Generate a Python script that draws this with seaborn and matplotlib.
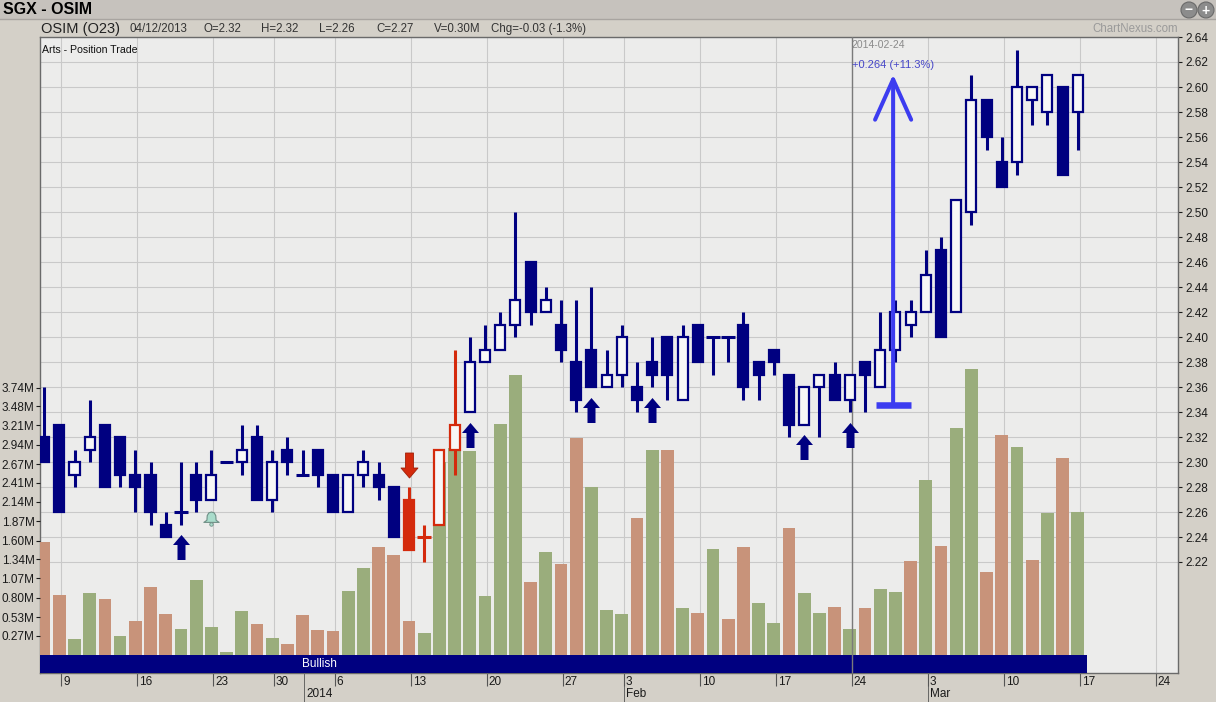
import numpy as np
import pandas as pd
import matplotlib
matplotlib.use('Agg')
import matplotlib.pyplot as plt
import matplotlib.transforms as mtrans
from matplotlib.path import Path
from matplotlib.patches import Ellipse, Rectangle
import seaborn as sns

plt.rcParams['font.family'] = ['Liberation Sans', 'DejaVu Sans']

W, H = 1216, 702

# ---- data -----------------------------------------------------------------
holidays = ['2013-12-25', '2014-01-01', '2014-01-31']
first_day, axis_end = '2013-12-06', '2014-03-24'

opens = [2.32, 2.33, 2.29, 2.31, 2.33, 2.32, 2.29, 2.29, 2.25, 2.26,
         2.29, 2.27, 2.30, 2.30, 2.32, 2.27, 2.31, 2.29, 2.31, 2.29,
         2.26, 2.29, 2.29, 2.28, 2.27, 2.24, 2.25, 2.31, 2.34, 2.38,
         2.39, 2.41, 2.46, 2.42, 2.41, 2.38, 2.39, 2.36, 2.37, 2.36,
         2.38, 2.40, 2.35, 2.41, 2.40, 2.40, 2.41, 2.38, 2.39, 2.37,
         2.33, 2.36, 2.37, 2.35, 2.38, 2.36, 2.39, 2.41, 2.42, 2.47,
         2.42, 2.50, 2.59, 2.54, 2.54, 2.59, 2.58, 2.60, 2.58]
highs = [2.36, 2.33, 2.31, 2.35, 2.33, 2.32, 2.31, 2.30, 2.26, 2.30,
         2.30, 2.31, 2.30, 2.33, 2.33, 2.31, 2.32, 2.31, 2.31, 2.29,
         2.29, 2.31, 2.30, 2.28, 2.28, 2.25, 2.31, 2.39, 2.40, 2.41,
         2.42, 2.50, 2.46, 2.44, 2.43, 2.43, 2.44, 2.39, 2.41, 2.38,
         2.40, 2.40, 2.41, 2.41, 2.40, 2.40, 2.42, 2.38, 2.39, 2.37,
         2.36, 2.37, 2.38, 2.37, 2.38, 2.42, 2.43, 2.43, 2.47, 2.48,
         2.51, 2.61, 2.59, 2.56, 2.63, 2.60, 2.61, 2.60, 2.61]
lows = [2.30, 2.26, 2.28, 2.30, 2.28, 2.28, 2.26, 2.25, 2.24, 2.25,
        2.26, 2.27, 2.30, 2.29, 2.27, 2.26, 2.29, 2.29, 2.28, 2.26,
        2.26, 2.28, 2.27, 2.24, 2.23, 2.22, 2.25, 2.29, 2.34, 2.38,
        2.39, 2.40, 2.41, 2.42, 2.38, 2.34, 2.36, 2.36, 2.36, 2.34,
        2.36, 2.35, 2.35, 2.38, 2.37, 2.38, 2.35, 2.35, 2.37, 2.32,
        2.33, 2.32, 2.35, 2.34, 2.34, 2.36, 2.38, 2.40, 2.42, 2.40,
        2.42, 2.49, 2.55, 2.52, 2.53, 2.57, 2.57, 2.53, 2.55]
closes = [2.30, 2.26, 2.30, 2.32, 2.28, 2.29, 2.28, 2.26, 2.24, 2.26,
          2.27, 2.29, 2.30, 2.31, 2.27, 2.30, 2.30, 2.29, 2.29, 2.26,
          2.29, 2.30, 2.28, 2.24, 2.23, 2.24, 2.31, 2.33, 2.38, 2.39,
          2.41, 2.43, 2.42, 2.43, 2.39, 2.35, 2.36, 2.37, 2.40, 2.35,
          2.37, 2.37, 2.40, 2.38, 2.40, 2.40, 2.36, 2.37, 2.38, 2.33,
          2.36, 2.37, 2.35, 2.37, 2.37, 2.39, 2.42, 2.42, 2.45, 2.40,
          2.51, 2.59, 2.56, 2.52, 2.60, 2.60, 2.61, 2.53, 2.61]
volumes = [1.585, 0.839, 0.228, 0.871, 0.788, 0.270, 0.480, 0.955, 0.578, 0.368,
           1.053, 0.396, 0.042, 0.620, 0.438, 0.242, 0.158, 0.564, 0.354, 0.336,
           0.900, 1.217, 1.510, 1.403, 0.480, 0.308, 2.700, 2.900, 2.853, 0.825,
           3.231, 3.916, 1.021, 1.441, 1.277, 3.035, 2.354, 0.629, 0.573, 1.921,
           2.867, 2.867, 0.657, 0.587, 1.483, 0.508, 1.510, 0.732, 0.452, 1.776,
           0.872, 0.587, 0.671, 0.364, 0.657, 0.923, 0.886, 1.315, 2.448, 1.524,
           3.175, 4.000, 1.161, 3.077, 2.909, 1.329, 1.986, 2.760, 2.000]

red_candles = [24, 25, 26, 27]
buy_arrows = [9, 28, 36, 40, 50, 53]
sell_arrows = [24]
alert_bells = [11]
signal_label = 'Bullish'
marker_date = '2014-02-24'
measure_start, measure_end = 2.346, 2.610
measure_day = 55.85

price_ticks = [2.22, 2.24, 2.26, 2.28, 2.30, 2.32, 2.34, 2.36, 2.38, 2.40, 2.42,
               2.44, 2.46, 2.48, 2.50, 2.52, 2.54, 2.56, 2.58, 2.60, 2.62, 2.64]
vol_ticks = [0.27, 0.53, 0.80, 1.07, 1.34, 1.60, 1.87, 2.14, 2.41, 2.67,
             2.94, 3.21, 3.48, 3.74]

header_fields = ['04/12/2013', 'O=2.32', 'H=2.32', 'L=2.26', 'C=2.27',
                 'V=0.30M', 'Chg=-0.03 (-1.3%)']
header_x = [129, 203, 261, 319, 376, 434, 491]

# ---- calendar -------------------------------------------------------------
days = pd.bdate_range(first_day, axis_end)
days = days[~days.isin(pd.to_datetime(holidays))]
n = len(closes)
weeks = days.isocalendar().week.values
week_pos = [i for i in range(1, len(days)) if weeks[i] != weeks[i - 1]]
month_pos = [i for i in range(1, len(days)) if days[i].month != days[i - 1].month]
month_lab = [str(days[i].year) if days[i].month == 1 else days[i].strftime('%b')
             for i in month_pos]
marker_idx = days.get_loc(pd.Timestamp(marker_date))

NAVY = '#000080'
RED = '#d42a0c'
GREEN = '#9aad7c'
BROWN = '#c8937a'
HOLLOW = '#f7f7f7'
BLUE = '#3c3cf0'

# ---- figure ---------------------------------------------------------------
fig = plt.figure(figsize=(W / 100, H / 100), dpi=100, facecolor='#d4d0c8')
fig.add_artist(Rectangle((0, 1 - 19 / H), 1, 19 / H, transform=fig.transFigure,
                         facecolor='#c6c2bd', edgecolor='none'))
fig.add_artist(plt.Line2D([0, 1], [1 - 19 / H] * 2, transform=fig.transFigure,
                          color='#a8a4a0', lw=1))

rect = [40 / W, (H - 673) / H, (1178 - 40) / W, (673 - 37) / H]
ax_bg = fig.add_axes(rect)
ax_v = fig.add_axes(rect)
ax = fig.add_axes(rect)

xlim = (-0.27, 74.59)
plim = (2.1312, 2.64)
vlim = (-0.252, 8.643)
shift = 0.12

# background axis: grid, ticks, price labels
ax_bg.set_facecolor('#ececeb')
ax_bg.set_xlim(xlim)
ax_bg.set_ylim(plim)
ax_bg.set_axisbelow(True)
ax_bg.yaxis.tick_right()
ax_bg.set_yticks(price_ticks, [f'{p:.2f}' for p in price_ticks])
ax_bg.tick_params(axis='y', length=3, pad=2, labelsize=8.5, colors='#1a1a1a')
ax_bg.xaxis.remove_overlapping_locs = False
ax_bg.set_xticks([p + shift for p in week_pos], [str(days[i].day) for i in week_pos])
ax_bg.set_xticks([p + shift for p in month_pos], month_lab, minor=True)
ax_bg.tick_params(axis='x', which='major', length=9, pad=-6.5, labelsize=8.5,
                  color='#555555', labelcolor='#1a1a1a')
ax_bg.tick_params(axis='x', which='minor', length=21, pad=-10, labelsize=8.5,
                  color='#555555', labelcolor='#1a1a1a')
nudge = mtrans.ScaledTranslation(2 / 100, 0, fig.dpi_scale_trans)
for lbl in ax_bg.get_xticklabels(which='both'):
    lbl.set_horizontalalignment('left')
    lbl.set_transform(lbl.get_transform() + nudge)
ax_bg.grid(True, which='major', color='#c9c9c9', lw=0.8)
for s in ax_bg.spines.values():
    s.set_color('#6a6a6a')
    s.set_linewidth(1)

# volume axis
moves = ['up' if i > 0 and closes[i] > closes[i - 1] else 'down' for i in range(n)]
vol_df = pd.DataFrame({'day': np.arange(n), 'volume': volumes, 'move': moves})
sns.barplot(data=vol_df, x='day', y='volume', hue='move',
            palette={'up': GREEN, 'down': BROWN}, native_scale=True,
            dodge=False, width=0.84, saturation=1, errorbar=None,
            legend=False, linewidth=0, ax=ax_v)
ax_v.set_xlim(xlim)
ax_v.set_ylim(vlim)
ax_v.set_xlabel('')
ax_v.set_ylabel('')
ax_v.patch.set_visible(False)
for s in ax_v.spines.values():
    s.set_visible(False)
ax_v.tick_params(axis='x', which='both', bottom=False, labelbottom=False)
ax_v.yaxis.tick_left()
ax_v.set_yticks(vol_ticks, [f'{v:.2f}M' for v in vol_ticks])
ax_v.tick_params(axis='y', length=3, pad=1, labelsize=8.5, colors='#1a1a1a')
ax_v.fill_between([-0.5, n - 0.4], vlim[0], 0, color=NAVY, lw=0, zorder=3)
ax_v.text(18.1, vlim[0] / 2, signal_label, color='white', fontsize=8.5,
          ha='center', va='center', zorder=4)

# candle axis
ax.set_xlim(xlim)
ax.set_ylim(plim)
ax.patch.set_visible(False)
for s in ax.spines.values():
    s.set_visible(False)
ax.tick_params(left=False, right=False, bottom=False, top=False,
               labelleft=False, labelbottom=False)
ax.axvline(marker_idx + shift, color='#7a7a7a', lw=1, zorder=1)

for i in range(n):
    o, h, l, c = opens[i], highs[i], lows[i], closes[i]
    col = RED if i in red_candles else NAVY
    ax.vlines(i, l, h, color=col, lw=2.2, zorder=2)
    if o == c:
        ax.hlines(o, i - 0.45, i + 0.45, color=col, lw=2.2, zorder=3)
    else:
        ax.bar(i, abs(c - o), bottom=min(o, c), width=0.66,
               facecolor=HOLLOW if c > o else col, edgecolor=col,
               linewidth=1.6, zorder=3)

# signal markers
up_path = Path([(-0.16, -0.5), (0.16, -0.5), (0.16, 0.1), (0.34, 0.1), (0, 0.5),
                (-0.34, 0.1), (-0.16, 0.1), (-0.16, -0.5)], closed=True)
down_path = up_path.transformed(mtrans.Affine2D().scale(1, -1))
bell_path = Path([(-0.5, -0.32), (-0.3, -0.18), (-0.28, 0.12), (-0.18, 0.3),
                  (0, 0.36), (0.18, 0.3), (0.28, 0.12), (0.3, -0.18),
                  (0.5, -0.32), (-0.5, -0.32)], closed=True)
below = mtrans.ScaledTranslation(0, -22.5 / 100, fig.dpi_scale_trans)
above = mtrans.ScaledTranslation(0, 22 / 100, fig.dpi_scale_trans)
bell_off = mtrans.ScaledTranslation(0, -17.5 / 100, fig.dpi_scale_trans)
ax.plot(buy_arrows, [lows[i] for i in buy_arrows], ls='none', marker=up_path,
        ms=18, color=NAVY, mew=0, transform=ax.transData + below, zorder=4)
ax.plot(sell_arrows, [highs[i] for i in sell_arrows], ls='none', marker=down_path,
        ms=18, color=RED, mew=0.6, mec='#a02008', transform=ax.transData + above,
        zorder=4)
ax.plot(alert_bells, [lows[i] for i in alert_bells], ls='none', marker=bell_path,
        ms=11, mfc='#a9dccb', mec='#6f8f86', mew=0.8,
        transform=ax.transData + bell_off, zorder=4)
ax.plot(alert_bells, [lows[i] for i in alert_bells], ls='none', marker='o',
        ms=2.5, mfc='#a9dccb', mec='#6f8f86', mew=0.6,
        transform=ax.transData + mtrans.ScaledTranslation(0, -24 / 100, fig.dpi_scale_trans),
        zorder=4)

# price measurement
ax.annotate('', xy=(measure_day, measure_end), xytext=(measure_day, measure_start),
            arrowprops=dict(arrowstyle='->,head_length=29,head_width=13',
                            mutation_scale=1, lw=2.9, color=BLUE,
                            shrinkA=0, shrinkB=0), zorder=5)
ax.hlines(measure_start, measure_day - 1.15, measure_day + 1.15, color=BLUE,
          lw=4.7, zorder=5)
change = measure_end - measure_start
ax.annotate(f'+{change:.3f} (+{change / measure_start * 100:.1f}%)',
            xy=(marker_idx, measure_end), xytext=(1.5, 6.5),
            textcoords='offset points', va='center', ha='left',
            fontsize=8, color='#4646c8', zorder=5)
ax.annotate(marker_date, xy=(marker_idx, 1), xycoords=('data', 'axes fraction'),
            xytext=(1.5, -2), textcoords='offset points', va='top', ha='left',
            fontsize=7.5, color='#8a8a8a')
ax.text(0.002, 0.987, 'Arts - Position Trade', transform=ax.transAxes,
        fontsize=7.6, va='top', ha='left', color='#111111')

# header
fig.text(3 / W, 1 - 10 / H, 'SGX - OSIM', fontsize=11.5, weight='bold', va='center')
fig.text(41 / W, 1 - 28.5 / H, 'OSIM (O23)', fontsize=10.5, va='center', color='#222222')
for xp, txt in zip(header_x, header_fields):
    fig.text(xp / W, 1 - 29 / H, txt, fontsize=8.3, va='center', color='#333333')
fig.text(1178 / W, 1 - 29 / H, 'ChartNexus.com', fontsize=8.3, va='center',
         ha='right', color='#9a9a9a')
for bx, sym in [(1189, '\u2212'), (1206, '+')]:
    fig.add_artist(Ellipse((bx / W, 1 - 10 / H), 16 / W, 16 / H,
                           transform=fig.transFigure, facecolor='#8c8c8c',
                           edgecolor='#6a6a6a', lw=0.8))
    fig.text(bx / W, 1 - 10.5 / H, sym, fontsize=10, weight='bold', color='white',
             ha='center', va='center')

fig.savefig('out.png', dpi=100, facecolor=fig.get_facecolor())
